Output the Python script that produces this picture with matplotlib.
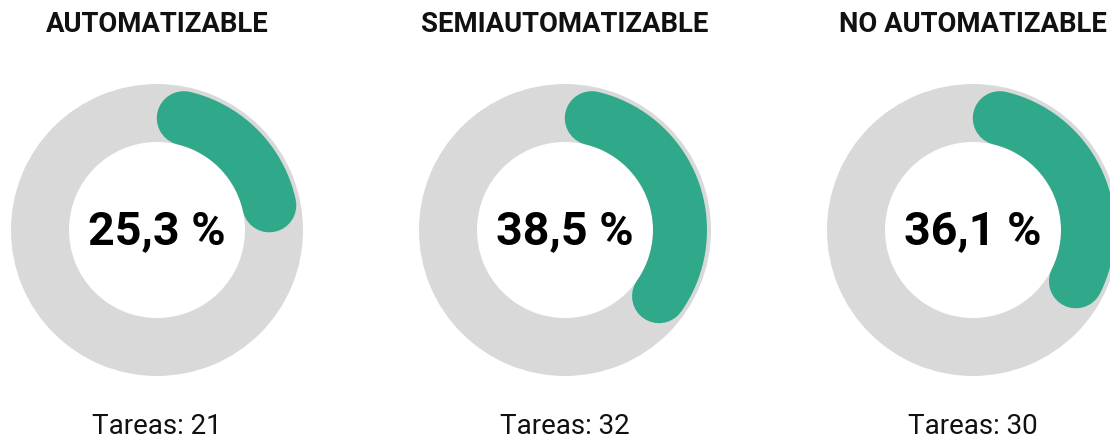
import numpy as np
import matplotlib.pyplot as plt
from matplotlib.patches import Wedge

plt.rcParams['font.family'] = ['Roboto', 'DejaVu Sans']

categories = ['AUTOMATIZABLE', 'SEMIAUTOMATIZABLE', 'NO AUTOMATIZABLE']
percentages = [25.3, 38.5, 36.1]
tareas = [21, 32, 30]

GREEN = '#2fa98a'
GREY = '#d9d9d9'

W, H, DPI = 1110, 439, 100
fig = plt.figure(figsize=(W / DPI, H / DPI), dpi=DPI)
ax = fig.add_axes([0, 0, 1, 1])
ax.set_xlim(0, W)
ax.set_ylim(H, 0)
ax.set_aspect('equal')
ax.axis('off')

centers_x = [157, 565, 973]
cy = 231
r_out, r_in = 146, 88
r_mid = 115
band = 54  # px, green stroke width
cap = np.degrees((band / 2) / r_mid)

for cx, cat, pct, n in zip(centers_x, categories, percentages, tareas):
    # background ring
    ax.add_patch(Wedge((cx, cy), r_out, 0, 360, width=r_out - r_in,
                       facecolor=GREY, edgecolor='none'))
    # green arc, clockwise from 12 o'clock, round caps inside the share
    span = pct / 100 * 360
    th = np.radians(np.linspace(cap, span - cap, 200))
    ax.plot(cx + r_mid * np.sin(th), cy - r_mid * np.cos(th),
            color=GREEN, lw=band * 72 / DPI, solid_capstyle='round')

    ax.text(cx, 25, cat, ha='center', va='center', fontsize=19.8,
            fontweight='bold', color='#111111')
    ax.text(cx, 231, f"{pct:.1f} %".replace('.', ','), ha='center',
            va='center', fontsize=33.6, fontweight='bold', color='black')
    ax.text(cx, 427, f"Tareas: {n}", ha='center', va='center',
            fontsize=20, color='#111111')

fig.savefig('out.png', dpi=DPI)
